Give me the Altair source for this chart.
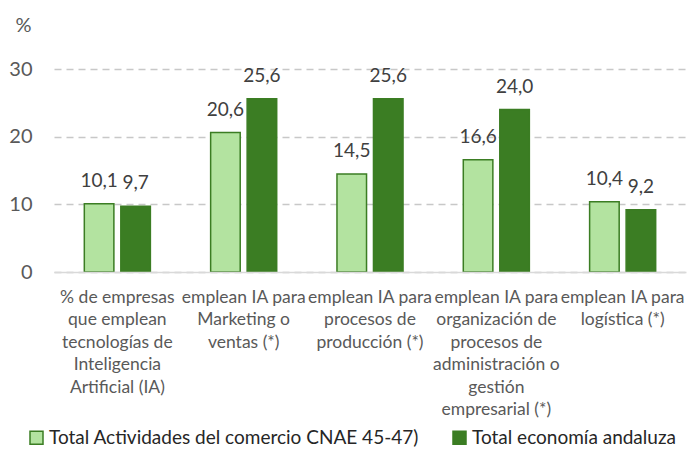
import altair as alt
import pandas as pd

categories = [
    "% de empresas|que emplean|tecnologías de|Inteligencia|Artificial (IA)",
    "emplean IA para|Marketing o|ventas  (*)",
    "emplean IA para|procesos de|producción (*)",
    "emplean IA para|organización de|procesos de|administración o|gestión|empresarial (*)",
    "emplean IA para|logística (*)",
]
series = ["Total Actividades del comercio CNAE 45-47)", "Total economía andaluza"]
comercio = [10.1, 20.6, 14.5, 16.6, 10.4]
andaluza = [9.7, 25.6, 25.6, 24.0, 9.2]
y_ticks = [0, 10, 20, 30]
colors = ["#b3e3a0", "#3b7d23"]

rows = []
for c, a, b in zip(categories, comercio, andaluza):
    rows.append({"cat": c, "serie": series[0], "value": a})
    rows.append({"cat": c, "serie": series[1], "value": b})
df = pd.DataFrame(rows)

FONT = "Lato"

base = alt.Chart(df).encode(
    x=alt.X(
        "cat:N",
        sort=categories,
        scale=alt.Scale(paddingInner=0.477, paddingOuter=0.24),
        axis=alt.Axis(
            title=None,
            labelAngle=0,
            labelExpr="split(datum.label, '|')",
            labelFont=FONT,
            labelFontSize=17.5,
            labelLineHeight=22.5,
            labelColor="#595959",
            labelBaseline="top",
            labelPadding=16,
            labelLimit=0,
            labelOverlap=False,
            ticks=False,
            domainColor="#d9d9d9",
            domainWidth=1.5,
            zindex=1,
        ),
    ),
    xOffset=alt.XOffset(
        "serie:N",
        sort=series,
        scale=alt.Scale(paddingInner=0.19, paddingOuter=0),
    ),
)

bars = base.mark_bar(stroke="#3b7d23", strokeWidth=1.5).encode(
    y=alt.Y(
        "value:Q",
        scale=alt.Scale(domain=[0, 30], nice=False),
        axis=alt.Axis(
            values=y_ticks,
            title="%",
            titleAngle=0,
            titleX=-31,
            titleY=-44,
            titleAlign="center",
            titleBaseline="middle",
            titleFont=FONT,
            titleFontSize=20,
            titleFontWeight="normal",
            titleColor="#595959",
            labelFont=FONT,
            labelFontSize=20,
            labelColor="#595959",
            labelPadding=22,
            ticks=False,
            domain=False,
            gridColor="#c8c8c8",
            gridDash=[7, 5],
            gridWidth=1.5,
        ),
    ),
    color=alt.Color(
        "serie:N",
        sort=series,
        scale=alt.Scale(domain=series, range=colors),
        legend=alt.Legend(
            title=None,
            orient="none",
            direction="horizontal",
            legendX=-27,
            legendY=359,
            padding=0,
            symbolType="square",
            symbolSize=169,
            symbolStrokeColor="#3b7d23",
            symbolStrokeWidth=1.5,
            labelFont=FONT,
            labelFontSize=19,
            labelColor="#262626",
            labelOffset=3,
            columnPadding=31,
            labelLimit=0,
        ),
    ),
)

labels = base.mark_text(
    baseline="bottom", dy=-13, font=FONT, fontSize=19, color="#404040"
).transform_calculate(
    txt="replace(format(datum.value, '.1f'), '.', ',')"
).encode(
    y="value:Q",
    text="txt:N",
)

chart = (
    alt.layer(bars, labels)
    .properties(
        width=632,
        height=203,
        autosize=alt.AutoSizeParams(type="none"),
        padding={"left": 46, "top": 61, "right": 2, "bottom": 175},
    )
    .configure_view(stroke=None)
)

chart.save("out.html", embed_options={"renderer": "svg", "actions": False})
